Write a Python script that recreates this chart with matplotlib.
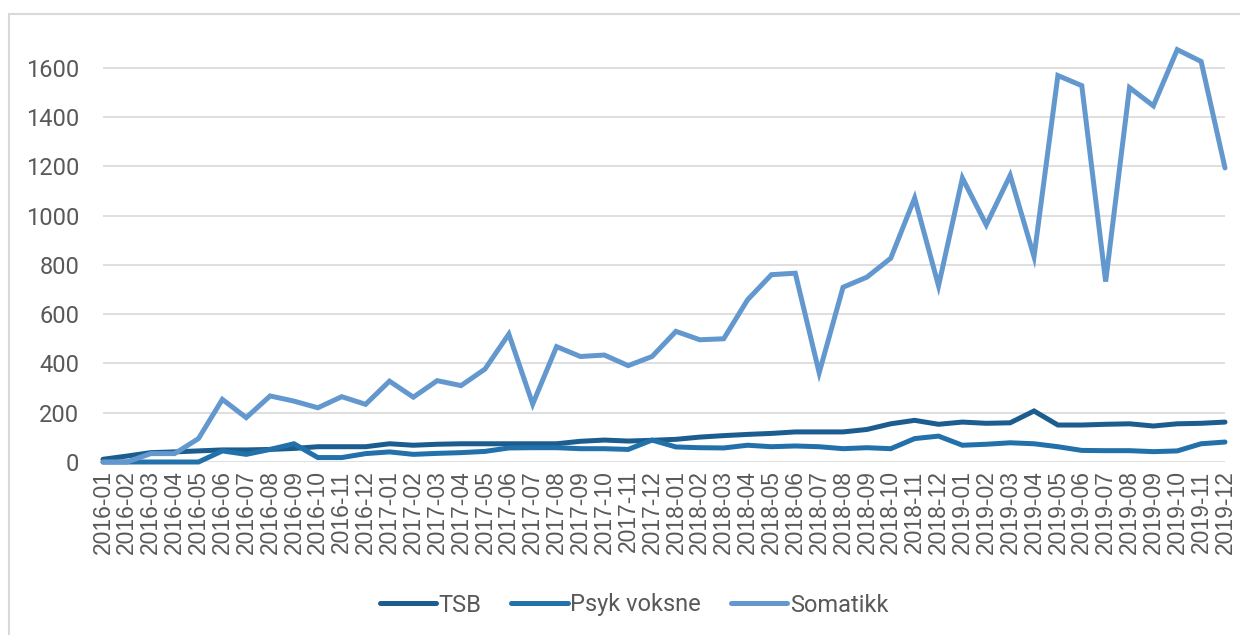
import matplotlib
import matplotlib.pyplot as plt
from matplotlib.patches import Rectangle

matplotlib.use("Agg")

# Maneder 2016-01 .. 2019-12
months = [f"{y}-{m:02d}" for y in range(2016, 2020) for m in range(1, 13)]

tsb = [11, 24, 38, 41, 45, 49, 49, 51, 55, 62, 62, 62,
       74, 68, 72, 74, 74, 74, 74, 74, 84, 89, 85, 88,
       92, 101, 107, 112, 116, 122, 122, 122, 132, 155, 169, 153,
       162, 157, 159, 207, 150, 150, 153, 155, 146, 155, 157, 162]

psyk_voksne = [0, 0, 0, 0, 0, 45, 31, 51, 74, 18, 18, 34,
               41, 31, 35, 38, 43, 57, 58, 58, 54, 54, 51, 89,
               61, 58, 57, 68, 62, 65, 62, 54, 58, 54, 95, 105,
               68, 72, 78, 74, 62, 47, 46, 46, 42, 45, 74, 81]

somatikk = [0, 0, 34, 34, 95, 254, 180, 268, 247, 220, 265, 234,
            328, 263, 330, 310, 377, 519, 235, 468, 428, 434, 391, 428,
            530, 496, 500, 658, 760, 766, 362, 709, 750, 827, 1071, 715,
            1152, 962, 1163, 833, 1568, 1527, 732, 1519, 1445, 1673, 1625, 1193]

series = [
    ("TSB", tsb, "#1c5d8f"),
    ("Psyk voksne", psyk_voksne, "#2271aa"),
    ("Somatikk", somatikk, "#6398cf"),
]
y_ticks = list(range(0, 1601, 200))

W, H = 1240, 635
fig = plt.figure(figsize=(W / 100, H / 100), dpi=100)

# Ramme rundt diagrammet
fig.patches.append(Rectangle((9 / W, -0.1), 1.2, 1.1 - 14 / H, transform=fig.transFigure,
                             fill=False, edgecolor="#d9d9d9", linewidth=1.5))

ax = fig.add_axes([103 / W, 1 - 462 / H, (1225 - 103) / W, (462 - 43) / H])

x = list(range(len(months)))
for name, values, color in series:
    ax.plot(x, values, color=color, linewidth=3.6, label=name,
            solid_capstyle="round", solid_joinstyle="miter", clip_on=False, zorder=3)

ax.set_xlim(0, len(months) - 1)
ax.set_ylim(0, 1700)
ax.set_yticks(y_ticks)
ax.set_yticklabels([str(v) for v in y_ticks], fontsize=17, color="#595959", family="Roboto")
ax.set_xticks(x)
ax.set_xticklabels(months, rotation=90, fontsize=16.5, color="#595959", family="Liberation Sans")
ax.tick_params(axis="y", length=0, pad=17)
ax.tick_params(axis="x", length=0, pad=6)

ax.grid(axis="y", color="#d9d9d9", linewidth=1.2)
ax.set_axisbelow(True)
for side in ["top", "right", "left", "bottom"]:
    ax.spines[side].set_visible(False)

leg = fig.legend(loc="center", bbox_to_anchor=(634 / W, 1 - 605 / H), ncol=3, frameon=False,
                 prop={"family": "Roboto", "size": 17}, handlelength=2.4, handletextpad=0.1,
                 columnspacing=1.25)
for t in leg.get_texts():
    t.set_color("#595959")

fig.savefig("out.png", dpi=100)
plt.close(fig)
